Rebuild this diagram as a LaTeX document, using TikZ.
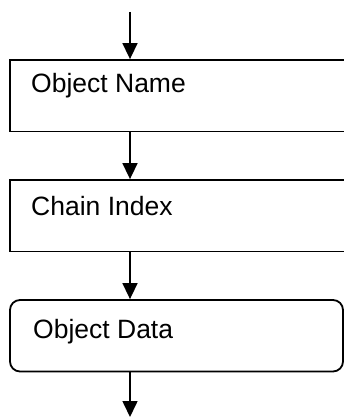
\documentclass[tikz,border=0pt]{standalone}
\usepackage{fontspec}
\setmainfont{Liberation Sans}
\usetikzlibrary{arrows.meta,calc}
\begin{document}
\begin{tikzpicture}[x=1pt,y=-1pt,
  box/.style={draw,line width=1.8pt,rectangle,inner sep=0pt,minimum height=71.5pt},
  lbl/.style={anchor=base west,inner sep=0pt,font=\fontsize{26.5}{30}\selectfont},
  flow/.style={line width=1.6pt,-{Triangle[length=16pt,width=15pt]}}]
\useasboundingbox (0,0) rectangle (344,417);
\clip (0,0) rectangle (344,417);
\node[box,minimum width=340pt] (b1) at (180,95.75) {};
\node[box,minimum width=340pt] (b2) at (180,215.75) {};
\node[box,minimum width=333pt,rounded corners=10pt] (b3) at (176.5,335.75) {};
\node[lbl] (t1) at (31,93) {Object Name};
\node[lbl] (t2) at (31,215) {Chain Index};
\node[lbl] (t3) at (33,338.3) {Object Data};
\coordinate (c0) at (130,12);
\coordinate (c4) at (130,417);
\draw[flow] (c0) -- (c0 |- b1.north);
\draw[flow] (b1.south -| c0) -- (b2.north -| c0);
\draw[flow] (b2.south -| c0) -- (b3.north -| c0);
\draw[flow] (b3.south -| c0) -- (c4);
\end{tikzpicture}
\end{document}
